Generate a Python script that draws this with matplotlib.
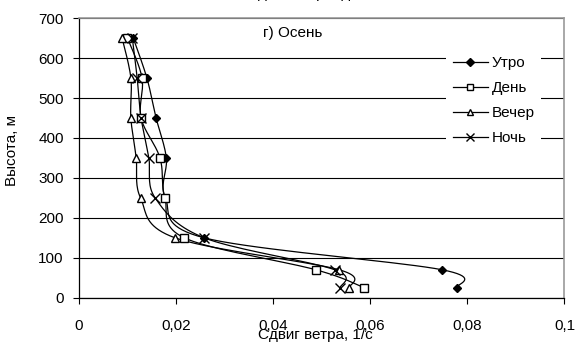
import numpy as np
import matplotlib
matplotlib.use('Agg')
import matplotlib.pyplot as plt

plt.rcParams['font.family'] = ['Liberation Sans', 'DejaVu Sans']

# data
heights = [25, 70, 150, 250, 350, 450, 550, 650]
utro = [0.0778, 0.0748, 0.0258, 0.0178, 0.0180, 0.0159, 0.0140, 0.0112]
den = [0.0588, 0.0488, 0.0217, 0.0177, 0.0167, 0.0128, 0.0130, 0.0100]
vecher = [0.0557, 0.0536, 0.0198, 0.0127, 0.0118, 0.0107, 0.0107, 0.0089]
noch = [0.0538, 0.0527, 0.0258, 0.0157, 0.0144, 0.0128, 0.0120, 0.0110]
series_names = ['Утро', 'День', 'Вечер', 'Ночь']
x_ticks = [0, 0.02, 0.04, 0.06, 0.08, 0.1]
x_tick_labels = ['0', '0,02', '0,04', '0,06', '0,08', '0,1']
y_ticks = [0, 100, 200, 300, 400, 500, 600, 700]


def smooth(xs, ys, ax, n=20):
    # Excel-like smoothed line (Catmull-Rom in display space)
    pts = ax.transData.transform(np.column_stack([xs, ys]))
    p = np.vstack([pts[0], pts, pts[-1]])
    out = []
    for i in range(1, len(p) - 2):
        p0, p1, p2, p3 = p[i - 1], p[i], p[i + 1], p[i + 2]
        c1 = p1 + (p2 - p0) / 6.0
        c2 = p2 - (p3 - p1) / 6.0
        t = np.linspace(0, 1, n)[:, None]
        seg = ((1 - t) ** 3) * p1 + 3 * ((1 - t) ** 2) * t * c1 + 3 * (1 - t) * t ** 2 * c2 + t ** 3 * p2
        out.append(seg if i == 1 else seg[1:])
    out = np.vstack(out)
    return ax.transData.inverted().transform(out)


fig = plt.figure(figsize=(5.76, 3.43), dpi=100)
ax = fig.add_axes([0.137, 0.132, 0.843, 0.815])
ax.set_xlim(0, 0.1)
ax.set_ylim(0, 700)

styles = [
    dict(marker='D', mfc='black', mec='black', ms=4.5),
    dict(marker='s', mfc='white', mec='black', ms=6),
    dict(marker='^', mfc='white', mec='black', ms=6),
    dict(marker='x', mfc='none', mec='black', ms=7, mew=1.0),
]

for name, xs, st in zip(series_names, [utro, den, vecher, noch], styles):
    curve = smooth(xs, heights, ax)
    ax.plot(curve[:, 0], curve[:, 1], color='black', lw=0.9, zorder=3)
    ax.plot(xs, heights, linestyle='none', zorder=4, **st)
    ax.plot([], [], color='black', lw=0.9, label=name,
            **{k: (v * 0.8 if k == 'ms' else v) for k, v in st.items()})

ax.set_xticks(x_ticks)
ax.set_xticklabels(x_tick_labels)
ax.set_yticks(y_ticks)
ax.tick_params(direction='out', length=4, width=0.8, labelsize=11)
ax.tick_params(axis='x', pad=11)
ax.tick_params(axis='y', pad=7)
ax.yaxis.grid(True, color='black', lw=0.8)
ax.set_axisbelow(True)
for s in ['top', 'right']:
    ax.spines[s].set_color('#999999')
    ax.spines[s].set_linewidth(1.2)
for s in ['left', 'bottom']:
    ax.spines[s].set_linewidth(0.9)

ax.set_xlabel('Сдвиг ветра, 1/с', fontsize=11)
ax.xaxis.set_label_coords(0.487, -0.108)
ax.set_ylabel('Высота, м', fontsize=11)
ax.yaxis.set_label_coords(-0.124, 0.527)
ax.text(0.44, 0.946, 'г) Осень', transform=ax.transAxes, ha='center', va='center', fontsize=11)

leg = ax.legend(loc='upper left', bbox_to_anchor=(0.757, 0.885), fontsize=11,
                handlelength=2.3, handletextpad=0.25, labelspacing=0.72,
                frameon=True, fancybox=False, borderpad=0.4, borderaxespad=0)
leg.get_frame().set_edgecolor('none')
leg.get_frame().set_facecolor('white')
leg.get_frame().set_alpha(1)

# partly cut-off chart title at the very top, as in the source
fig.text(0.54, 1.006, 'Сдвиг ветра, день', ha='center', va='baseline', fontsize=11)

fig.savefig('out.png', dpi=100)
